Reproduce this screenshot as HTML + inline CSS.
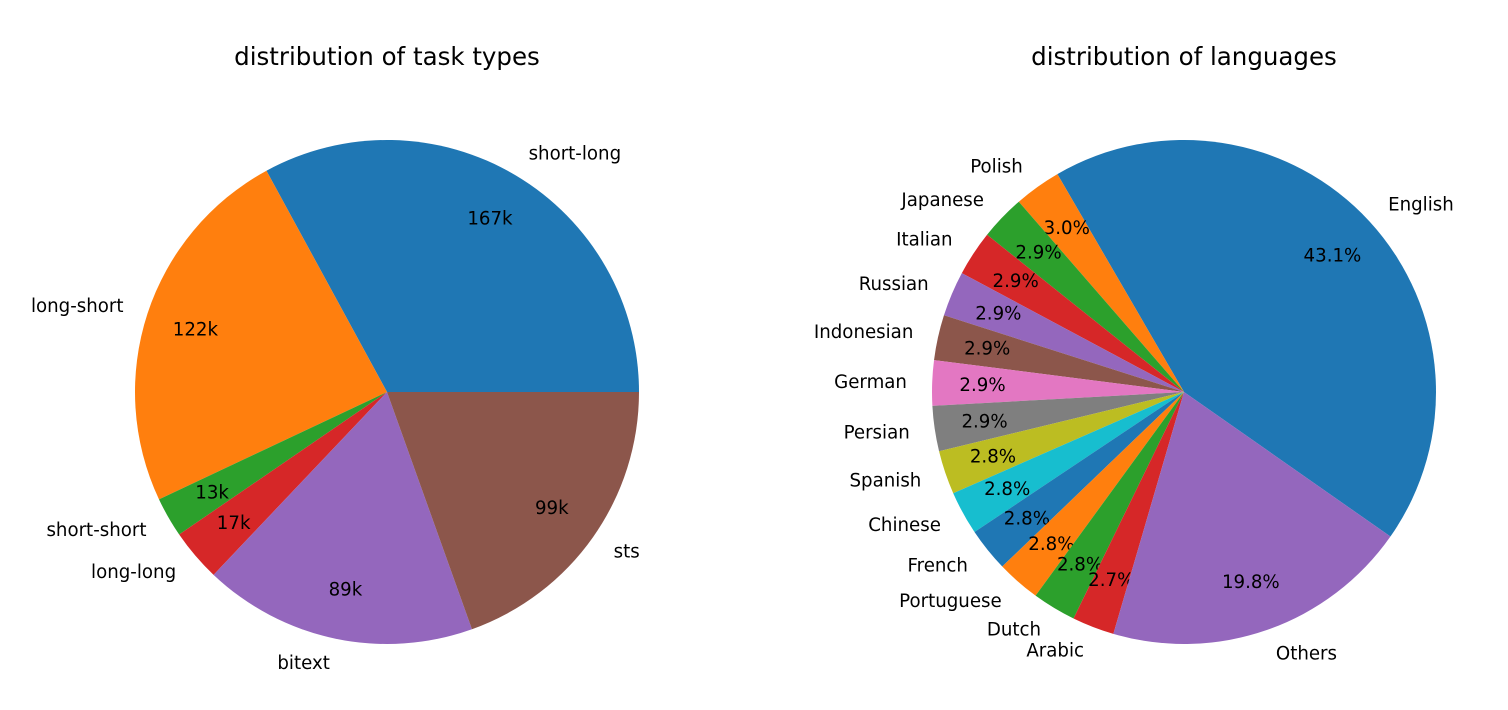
<!DOCTYPE html>
<html><head><meta charset="utf-8"><style>
html,body{margin:0;padding:0;background:#fff;}
svg text{font-family:"DejaVu Sans","Liberation Sans",sans-serif;fill:#000;}
</style></head><body>
<svg id="chart" width="1508" height="705" viewBox="0 0 1508 705" xmlns="http://www.w3.org/2000/svg">
<text x="387" y="65" font-size="24.5" text-anchor="middle">distribution of task types</text>
<text x="1184" y="65" font-size="24.5" text-anchor="middle">distribution of languages</text>
</svg>
<script>
const taskLabels = ["short-long","long-short","short-short","long-long","bitext","sts"];
const taskValues = [167,122,13,17,89,99];
const taskText = ["167k","122k","13k","17k","89k","99k"];
const langLabels = ["English","Polish","Japanese","Italian","Russian","Indonesian","German","Persian","Spanish","Chinese","French","Portuguese","Dutch","Arabic","Others"];
const langValues = [43.1,3.0,2.9,2.9,2.9,2.9,2.9,2.9,2.8,2.8,2.8,2.8,2.8,2.7,19.8];
const colors = ["#1f77b4","#ff7f0e","#2ca02c","#d62728","#9467bd","#8c564b","#e377c2","#7f7f7f","#bcbd22","#17becf"];
const svg = document.getElementById('chart');
const NS = "http://www.w3.org/2000/svg";
function drawPie(name, cx, cy, r, labels, values, texts, start) {
  const total = values.reduce((a,b)=>a+b,0);
  let a0 = start;
  values.forEach((v,i)=>{
    const span = v/total*360;
    const a1 = a0+span;
    const rad0 = a0*Math.PI/180, rad1 = a1*Math.PI/180;
    const x0 = cx+r*Math.cos(rad0), y0 = cy-r*Math.sin(rad0);
    const x1 = cx+r*Math.cos(rad1), y1 = cy-r*Math.sin(rad1);
    const p = document.createElementNS(NS,'path');
    p.setAttribute('d',`M${cx},${cy} L${x0},${y0} A${r},${r} 0 ${span>180?1:0} 0 ${x1},${y1} Z`);
    p.setAttribute('fill',colors[i%colors.length]);
    
    
    svg.appendChild(p);
    const mid = (a0+a1)/2*Math.PI/180;
    const lx = cx+1.1*r*Math.cos(mid), ly = cy-1.1*r*Math.sin(mid);
    const t = document.createElementNS(NS,'text');
    t.setAttribute('x',lx); t.setAttribute('y',ly+6);
    t.setAttribute('font-size','18.2');
    t.setAttribute('text-anchor', Math.cos(mid)>=0?'start':'end');
    t.textContent = labels[i];
    
    
    svg.appendChild(t);
    const px = cx+0.8*r*Math.cos(mid), py = cy-0.8*r*Math.sin(mid);
    const t2 = document.createElementNS(NS,'text');
    t2.setAttribute('x',px); t2.setAttribute('y',py+6);
    t2.setAttribute('font-size','18.2');
    t2.setAttribute('text-anchor','middle');
    t2.textContent = texts ? texts[i] : v.toFixed(1)+'%';
    
    
    svg.appendChild(t2);
    a0 = a1;
  });
}
drawPie('task', 387, 392, 252, taskLabels, taskValues, taskText, 0);
drawPie('lang', 1184, 392, 252, langLabels, langValues, null, -35);
</script>
</body></html>
